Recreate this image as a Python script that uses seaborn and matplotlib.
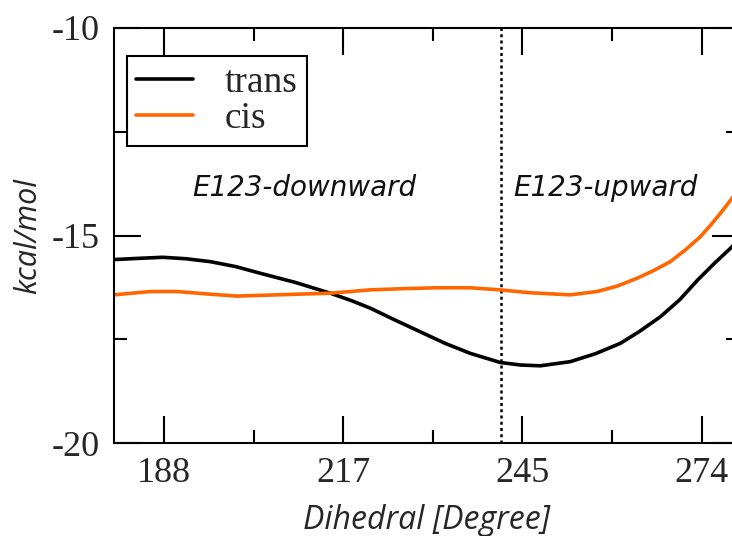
import numpy as np
import pandas as pd
import matplotlib
matplotlib.use("Agg")
import matplotlib.pyplot as plt
from matplotlib.ticker import FixedLocator
import seaborn as sns

# ---- data ----
trans_x = [180.0, 184.0, 187.8, 191.5, 195.4, 199.5, 203.4, 209.0, 214.6, 218.0, 221.0, 225.0, 229.0, 233.0,
           237.0, 241.8, 245.0, 248.2, 253.0, 257.0, 261.0, 264.0, 267.4, 270.5, 273.4, 276.0, 278.9, 280.0]
trans_y = [-15.58, -15.55, -15.525, -15.56, -15.63, -15.75, -15.91, -16.13, -16.39, -16.57, -16.75, -17.04,
           -17.32, -17.60, -17.84, -18.06, -18.12, -18.14, -18.04, -17.85, -17.60, -17.32, -16.96, -16.55,
           -16.07, -15.68, -15.27, -15.05]

cis_x = [180.0, 185.8, 190.1, 195.0, 199.7, 206.1, 214.6, 221.0, 226.5, 231.7, 237.0, 241.8, 246.6, 253.0,
         257.3, 260.5, 263.7, 266.4, 269.0, 271.4, 273.8, 275.4, 277.0, 278.9, 280.0]
cis_y = [-16.43, -16.35, -16.35, -16.41, -16.46, -16.43, -16.39, -16.31, -16.28, -16.26, -16.26, -16.31,
         -16.38, -16.43, -16.35, -16.22, -16.03, -15.84, -15.63, -15.35, -15.03, -14.76, -14.47, -14.10, -13.85]

series_names = ["trans", "cis"]
series_colors = ["#000000", "#ff6600"]
x_tick_pos = [188.0, 216.667, 245.333, 274.0]
x_tick_labels = ["188", "217", "245", "274"]
x_minor = [173.667, 202.333, 231.0, 259.667, 288.333]
y_ticks = [-20, -15, -10]
y_minor = [-17.5, -12.5]
divider_x = 241.9
region_labels = ["E123-downward", "E123-upward"]
region_label_x = [210.4, 258.6]
region_label_y = -13.86

df = pd.concat([
    pd.DataFrame({"x": trans_x, "y": trans_y, "series": "trans"}),
    pd.DataFrame({"x": cis_x, "y": cis_y, "series": "cis"}),
], ignore_index=True)

sns.set_style("white")
plt.rcParams["font.family"] = ["DejaVu Sans"]

fig = plt.figure(figsize=(7.32, 5.36), dpi=100)
ax = fig.add_axes([114 / 732, 93 / 536, 625 / 732, 415 / 536])

sns.lineplot(data=df, x="x", y="y", hue="series", hue_order=series_names,
             palette=dict(zip(series_names, series_colors)), linewidth=2.6,
             sort=False, estimator=None, ax=ax, legend=True)

ax.axvline(divider_x, color="black", linestyle=(0, (1.2, 1.3)), linewidth=1.8, zorder=1)

ax.set_xlim(180, 280)
ax.set_ylim(-20, -10)

ax.xaxis.set_major_locator(FixedLocator(x_tick_pos))
ax.set_xticklabels(x_tick_labels)
ax.xaxis.set_minor_locator(FixedLocator(x_minor))
ax.yaxis.set_major_locator(FixedLocator(y_ticks))
ax.set_yticklabels([str(v) for v in y_ticks])
ax.yaxis.set_minor_locator(FixedLocator(y_minor))

ax.tick_params(which="both", direction="in", top=True, right=True, bottom=True, left=True,
               width=1.5, color="black")
ax.tick_params(which="major", length=19.5, pad=10, labelsize=26)
ax.tick_params(which="minor", length=9.5)
for lab in ax.get_xticklabels() + ax.get_yticklabels():
    lab.set_fontfamily("Liberation Serif")

for s in ax.spines.values():
    s.set_visible(True)
    s.set_linewidth(1.5)
    s.set_color("black")

ax.set_xlabel("Dihedral [Degree]", fontsize=23, fontstyle="italic", family="Open Sans", labelpad=10)
ax.set_ylabel("kcal/mol", fontsize=22, fontstyle="italic", family="Open Sans", labelpad=6)

for t, xx in zip(region_labels, region_label_x):
    ax.text(xx, region_label_y, t, fontsize=20, fontstyle="italic", family="DejaVu Sans",
            ha="center", va="center", color="#111111")

handles, labels = ax.get_legend_handles_labels()
leg = ax.legend(handles, labels, loc="upper left", bbox_to_anchor=(13 / 625, 1 - 28 / 415),
                borderaxespad=0, frameon=True, fancybox=False, shadow=False, framealpha=1,
                prop={"family": "Liberation Serif", "size": 27},
                handlelength=1.5, handletextpad=0.85, borderpad=0.25, labelspacing=0.05)
leg.get_frame().set_edgecolor("black")
leg.get_frame().set_linewidth(1.5)
for line in leg.get_lines():
    line.set_linewidth(2.6)

fig.savefig("out.png", dpi=100)
